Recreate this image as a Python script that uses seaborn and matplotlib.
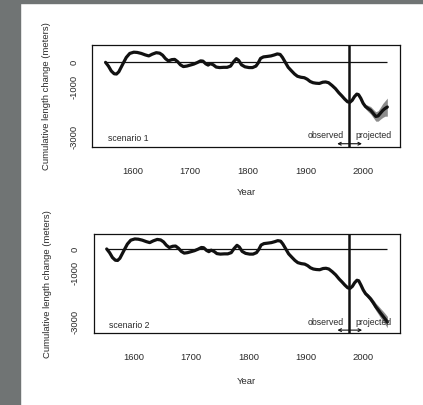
import numpy as np
import matplotlib
matplotlib.use("Agg")
import matplotlib.pyplot as plt
from matplotlib.patches import Rectangle
import seaborn as sns

#observed cumulative length change, shared by both scenarios
hist_years = [1553, 1558, 1563, 1568, 1572, 1576, 1580, 1584, 1589, 1595, 1602, 1608,
              1615, 1622, 1628, 1634, 1641, 1647, 1652, 1657, 1662, 1668, 1673, 1678,
              1683, 1688, 1694, 1700, 1706, 1712, 1718, 1722, 1727, 1731, 1735, 1740,
              1745, 1751, 1758, 1764, 1770, 1775, 1780, 1784, 1789, 1795, 1802, 1808,
              1814, 1818, 1822, 1827, 1834, 1840, 1846, 1851, 1856, 1860, 1865, 1870,
              1876, 1881, 1886, 1892, 1898, 1903, 1908, 1913, 1918, 1924, 1930, 1935,
              1940, 1946, 1952, 1958, 1963, 1968, 1973, 1977, 1981, 1985, 1989, 1992]
hist_vals = [0, -150, -350, -460, -470, -380, -200, -20, 200, 360, 410, 400,
             360, 300, 260, 330, 390, 370, 290, 150, 60, 110, 120, 30,
             -100, -170, -150, -110, -70, -10, 60, 50, -60, -110, -50, -100,
             -190, -210, -200, -200, -150, 20, 150, 80, -100, -180, -210, -210,
             -150, -20, 160, 220, 240, 260, 300, 340, 320, 200, 0, -200,
             -350, -470, -560, -600, -620, -680, -770, -820, -840, -850, -800, -790,
             -820, -930, -1060, -1230, -1350, -1480, -1590, -1610, -1530, -1380, -1280, -1300]

#projections
proj_years = [1992, 1996, 2000, 2004, 2008, 2013, 2018, 2022, 2026, 2030, 2034, 2038, 2042]
s1_mean = [-1300, -1450, -1650, -1780, -1850, -1930, -2070, -2180, -2160, -2050, -1940, -1860, -1800]
s1_low = [-1300, -1480, -1710, -1870, -1970, -2080, -2240, -2370, -2370, -2290, -2220, -2170, -2170]
s1_high = [-1300, -1420, -1590, -1690, -1730, -1780, -1900, -1990, -1950, -1810, -1660, -1550, -1440]
s2_mean = [-1300, -1480, -1680, -1830, -1920, -2050, -2220, -2370, -2490, -2620, -2740, -2860, -2990]
s2_low = [-1300, -1500, -1730, -1900, -2010, -2160, -2350, -2520, -2660, -2810, -2950, -3080, -3220]
s2_high = [-1300, -1460, -1630, -1760, -1830, -1940, -2090, -2220, -2320, -2430, -2530, -2640, -2760]

sns.set_style("white")
plt.rcParams['font.family'] = ['Liberation Sans', 'DejaVu Sans']
plt.rcParams['font.size'] = 6.8
txt = '#2a2a2a'

fig = plt.figure(figsize=(4.23, 4.05), dpi=100)
fig.patch.set_facecolor('white')
fig.patches.append(Rectangle((0, 0), 20 / 423, 1, transform=fig.transFigure, color='#707474', zorder=0))
fig.patches.append(Rectangle((0, 1 - 2.5 / 405), 1, 2.5 / 405, transform=fig.transFigure, color='#707474', zorder=0))

panels = [
    ([92.3 / 423, (405 - 146.7) / 405, 307.7 / 423, 101.7 / 405], (-3400, 700),
     s1_mean, s1_low, s1_high, "scenario 1", -3060, -2960, -3280, -0.405),
    ([93.5 / 423, (405 - 333.3) / 405, 306.5 / 423, 99 / 405], (-3450, 600),
     s2_mean, s2_low, s2_high, "scenario 2", -3130, -3020, -3320, -0.44),
]

for rect, ylim, mean, low, high, name, name_y, obs_y, arr_y, xl_y in panels:
    ax = fig.add_axes(rect)
    ax.set_facecolor('white')
    ax.fill_between(proj_years, low, high, color='#8c8c8c', lw=0, zorder=1)
    yrs = hist_years + proj_years[1:]
    vals = hist_vals + mean[1:]
    sns.lineplot(x=yrs, y=vals, ax=ax, color='#111111', lw=2.3, estimator=None,
                 sort=False, zorder=3)
    ax.hlines(0, hist_years[0], proj_years[-1], color='#111111', lw=0.9, zorder=2)
    ax.axvline(1976, color='#111111', lw=1.8, zorder=4)
    ax.annotate('', xy=(1955, arr_y), xytext=(1998, arr_y),
                arrowprops=dict(arrowstyle='<->', lw=0.8, color='#111111', mutation_scale=5,
                                shrinkA=0, shrinkB=0))
    ax.text(1557, name_y, name, ha='left', va='center', color=txt, fontsize=6.3)
    ax.text(1966, obs_y, "observed", ha='right', va='center', color=txt, fontsize=6.3)
    ax.text(1986, obs_y, "projected", ha='left', va='center', color=txt, fontsize=6.3)

    ax.set_xlim(1530, 2064)
    ax.set_ylim(*ylim)
    ax.set_xticks([1600, 1700, 1800, 1900, 2000])
    ax.set_yticks([0, -1000, -2000, -3000])
    ax.set_yticklabels(['0', '-1000', '', '-3000'], rotation=90, va='center')
    ax.tick_params(axis='both', direction='out', length=5, width=0.8, colors='#111111',
                   labelcolor=txt)
    ax.tick_params(axis='x', pad=9.5)
    ax.tick_params(axis='y', pad=5)
    for s in ax.spines.values():
        s.set_color('#111111')
        s.set_linewidth(0.9)
    ax.set_xlabel("Year", color=txt)
    ax.set_ylabel("Cumulative length change (meters)", color=txt)
    ax.xaxis.set_label_coords(0.5, xl_y)
    ax.yaxis.set_label_coords(-0.135, 0.5)

fig.savefig("out.png", dpi=100, facecolor=fig.get_facecolor())
